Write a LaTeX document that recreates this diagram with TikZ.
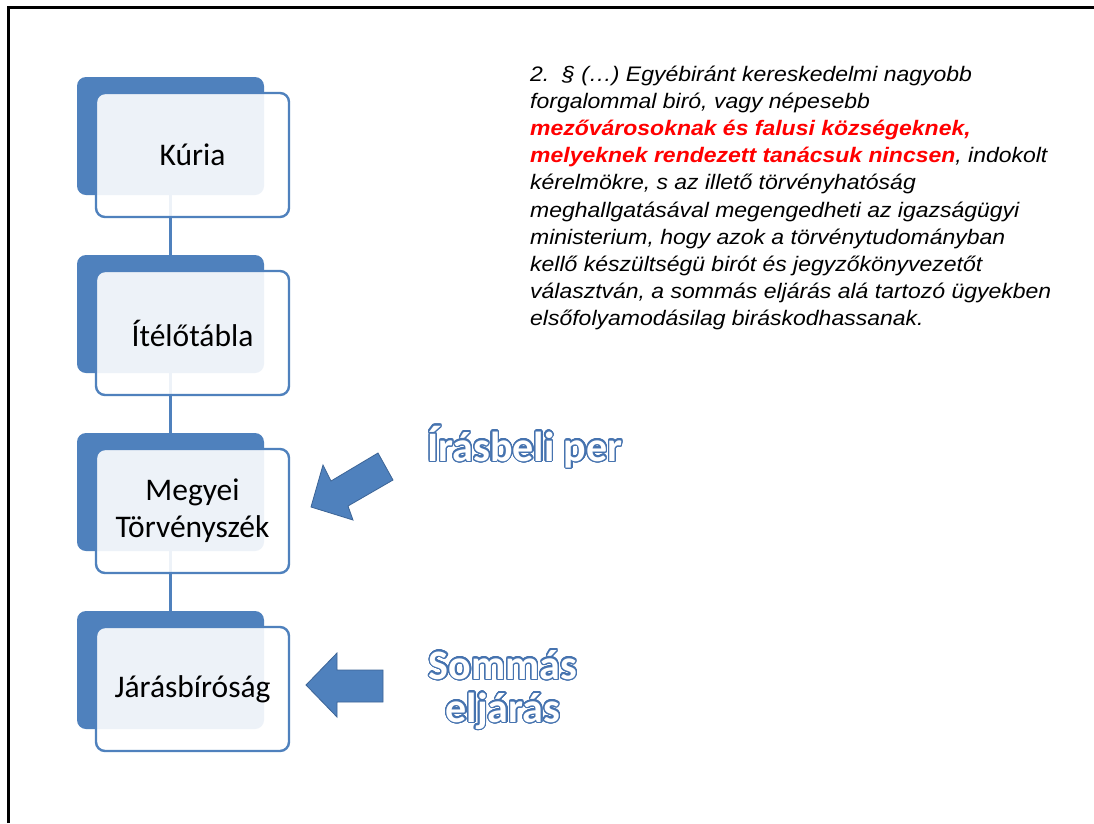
\documentclass[tikz,border=0pt]{standalone}
\usepackage{fontspec}
\setmainfont{Carlito}
\newfontfamily\arialfont[FakeStretch=1.094]{Liberation Sans}
\usepackage{contour}
\contourlength{1.3pt}
\contournumber{32}
\definecolor{myblue}{RGB}{79,129,189}
\definecolor{outlineblue}{RGB}{70,115,175}
\definecolor{arrowedge}{RGB}{60,100,150}
\definecolor{lawred}{RGB}{255,0,0}
\begin{document}
\begin{tikzpicture}[x=1pt,y=-1pt,
  backbox/.style={fill=myblue, draw=none, rounded corners=9pt, minimum width=187pt, minimum height=118pt, inner sep=0pt},
  frontbox/.style={draw=myblue, line width=2.4pt, fill=white, fill opacity=0.9, text opacity=1, rounded corners=9pt, minimum width=193pt, minimum height=124pt, inner sep=0pt, align=center, font=\fontsize{31.5}{37}\selectfont},
  conn/.style={draw=myblue, line width=2.4pt},
  blockarrow/.style={fill=myblue, draw=arrowedge, line width=0.8pt, line join=miter},
  outlined/.style={font=\bfseries\fontsize{42}{44}\selectfont, inner sep=0pt, align=center},
  para/.style={anchor=base west, inner sep=0pt, font=\arialfont\itshape\fontsize{21}{27}\selectfont}
]
\useasboundingbox (0,0) rectangle (1094,823);
\fill[white] (0,0) rectangle (1094,823);
\draw[line width=3pt] (8,823) -- (8,7.5) -- (1094,7.5);

% back boxes
\node[backbox] (kb) at (170.5,136) {};
\node[backbox] (ib) at (170.5,314) {};
\node[backbox] (mb) at (170.5,492) {};
\node[backbox] (jb) at (170.5,670) {};

% connectors
\draw[conn] (kb.south) -- (ib.north);
\draw[conn] (ib.south) -- (mb.north);
\draw[conn] (mb.south) -- (jb.north);

% front boxes
\node[frontbox] (kf) at (192.5,155) {Kúria};
\node[frontbox] (if) at (192.5,333) {Ítélőtábla};
\node[frontbox] (mf) at (192.5,511) {Megyei\\Törvényszék};
\node[frontbox] (jf) at (192.5,689) {Járásbíróság};

% block arrows
\draw[blockarrow] (311,507) -- (323,465) -- (331,481) -- (378,453) -- (393,480) -- (348,506) -- (353,520) -- cycle;
\draw[blockarrow] (306,685) -- (337,653) -- (337,670) -- (383,670) -- (383,702) -- (337,702) -- (337,717) -- cycle;

% outlined labels
\node[outlined, anchor=base] (iras) at (525,461) {\contour{outlineblue}{\textcolor{white}{Írásbeli per}}};
\node[outlined, anchor=base] (som1) at (503,679) {\contour{outlineblue}{\textcolor{white}{Sommás}}};
\node[outlined, anchor=base] (som2) at (503,722) {\contour{outlineblue}{\textcolor{white}{eljárás}}};

% paragraph
\node[para] (p1) at (530,81) {2.\ \ § (…) Egyébiránt kereskedelmi nagyobb};
\node[para] (p2) at (530,108.2) {forgalommal biró, vagy népesebb};
\node[para] (p3) at (530,135.4) {\textcolor{lawred}{\bfseries mezővárosoknak és falusi községeknek,}};
\node[para] (p4) at (530,162.6) {\textcolor{lawred}{\bfseries melyeknek rendezett tanácsuk nincsen}, indokolt};
\node[para] (p5) at (530,189.8) {kérelmökre, s az illető törvényhatóság};
\node[para] (p6) at (530,217) {meghallgatásával megengedheti az igazságügyi};
\node[para] (p7) at (530,244.2) {ministerium, hogy azok a törvénytudományban};
\node[para] (p8) at (530,271.4) {kellő készültségü birót és jegyzőkönyvezetőt};
\node[para] (p9) at (530,298.6) {választván, a sommás eljárás alá tartozó ügyekben};
\node[para] (p10) at (530,325.8) {elsőfolyamodásilag biráskodhassanak.};
\end{tikzpicture}
\end{document}
